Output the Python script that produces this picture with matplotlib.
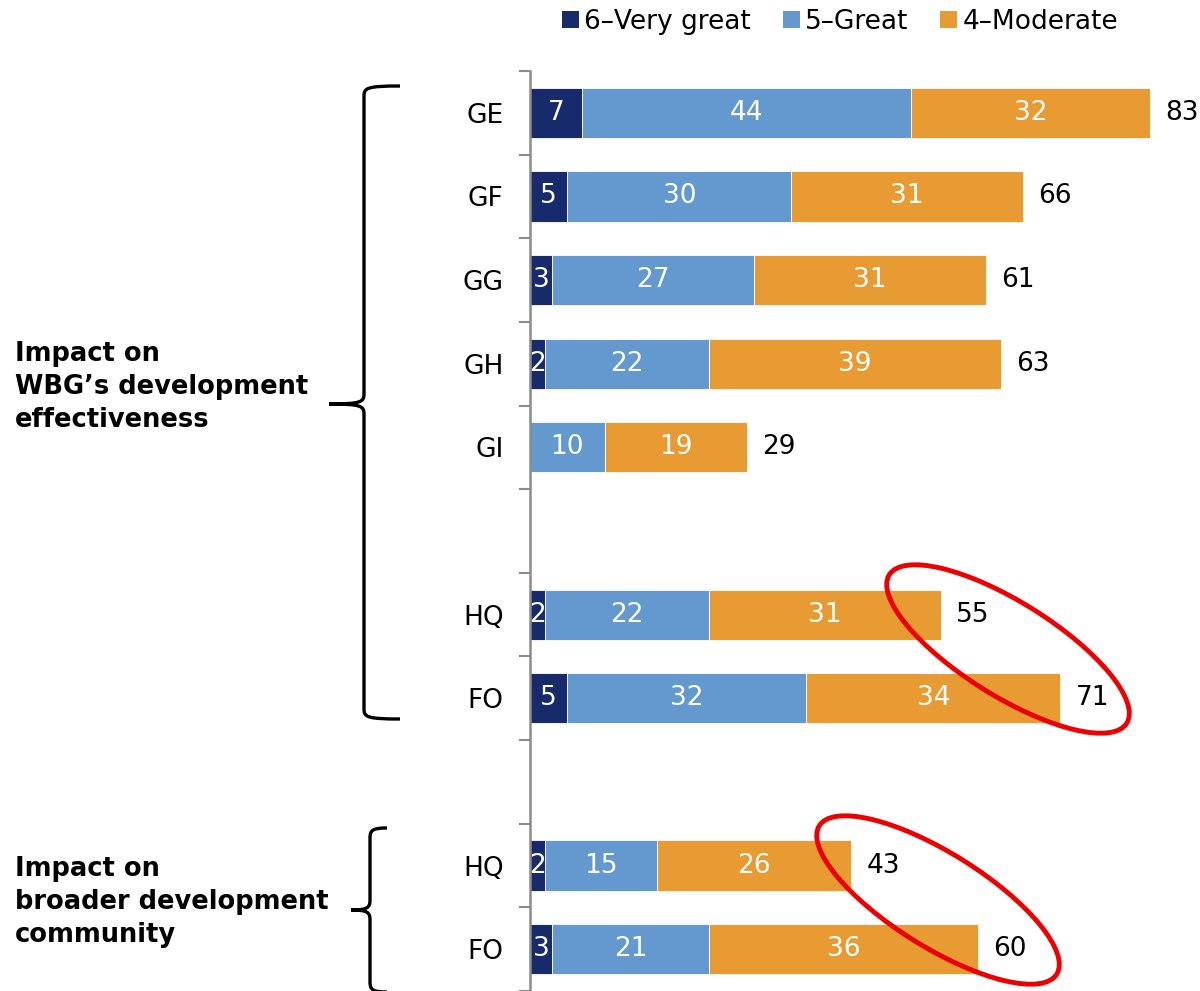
import numpy as np
import matplotlib.pyplot as plt
from matplotlib.path import Path
from matplotlib.patches import PathPatch, Ellipse, Patch

# === Data ===
rows = ['GE', 'GF', 'GG', 'GH', 'GI', '', 'HQ', 'FO', '', 'HQ', 'FO']
very_great = [7, 5, 3, 2, 0, None, 2, 5, None, 2, 3]
great = [44, 30, 27, 22, 10, None, 22, 32, None, 15, 21]
moderate = [32, 31, 31, 39, 19, None, 31, 34, None, 26, 36]
totals = [83, 66, 61, 63, 29, None, 55, 71, None, 43, 60]

series_names = ['6\u2013Very great', '5\u2013Great', '4\u2013Moderate']
colors = ['#172A6B', '#6399CE', '#E99B33']

group_labels = ['Impact on\nWBG\u2019s development\neffectiveness',
                'Impact on\nbroader development\ncommunity']

W, H = 1200, 991
FS = 19
fig = plt.figure(figsize=(W / 100, H / 100), dpi=100)
ax = fig.add_axes([530 / W, 0, 1 - 530 / W, (H - 71) / H])

ypos = np.arange(len(rows))
idx = [i for i, r in enumerate(rows) if r]

left = np.zeros(len(idx))
for name, vals, col in zip(series_names, [very_great, great, moderate], colors):
    v = np.array([vals[i] for i in idx], dtype=float)
    bars = ax.barh(ypos[idx], v, left=left, height=0.6, color=col,
                   edgecolor='white', linewidth=0.6, label=name)
    for b, val in zip(bars, v):
        if val > 0:
            ax.text(b.get_x() + b.get_width() / 2, b.get_y() + b.get_height() / 2,
                    f'{int(val)}', ha='center', va='center', color='white', fontsize=FS)
    left += v

for i in idx:
    ax.annotate(f'{totals[i]}', xy=(totals[i], ypos[i]), xytext=(11, 0),
                textcoords='offset points', ha='left', va='center',
                fontsize=FS, color='black')

ax.set_xlim(0, (W - 530) / 7.47)
ax.set_ylim(len(rows) - 0.5, -0.5)
ax.set_xticks([])
ax.set_yticks(ypos)
ax.set_yticklabels(rows, fontsize=FS)
ax.tick_params(axis='y', which='major', length=0, pad=19)
ax.set_yticks(np.arange(len(rows) + 1) - 0.5, minor=True)
ax.tick_params(axis='y', which='minor', length=8, width=1.5, color='#8C8C8C')
for s in ['top', 'right', 'bottom']:
    ax.spines[s].set_visible(False)
ax.spines['left'].set_color('#8C8C8C')
ax.spines['left'].set_linewidth(1.8)

# legend
handles = [Patch(facecolor=c, edgecolor='none') for c in colors]
fig.legend(handles, series_names, loc='center', bbox_to_anchor=(0.70, 0.978),
           ncol=3, frameon=False, fontsize=FS, handlelength=0.65, handleheight=0.65,
           handletextpad=0.2, columnspacing=1.2)

# overlay in pixel space for brackets, ellipses, group labels
ov = fig.add_axes([0, 0, 1, 1], zorder=5)
ov.set_xlim(0, W)
ov.set_ylim(H, 0)
ov.axis('off')
ov.patch.set_alpha(0)


def brace(x, top, mid, bottom, tip, end, r=10):
    verts = [(end, top), (x + 3, top), (x, top + 2), (x, top + r),
             (x, mid - r), (x, mid - 2), (x - 3, mid), (tip, mid),
             (x - 3, mid), (x, mid + 2), (x, mid + r),
             (x, bottom - r), (x, bottom - 2), (x + 3, bottom), (end, bottom)]
    codes = [Path.MOVETO, Path.CURVE4, Path.CURVE4, Path.CURVE4,
             Path.LINETO, Path.CURVE4, Path.CURVE4, Path.CURVE4,
             Path.CURVE4, Path.CURVE4, Path.CURVE4,
             Path.LINETO, Path.CURVE4, Path.CURVE4, Path.CURVE4]
    ov.add_patch(PathPatch(Path(verts, codes), fill=False, lw=2.4, color='black'))


brace(364, 86, 404, 719, 329, 400)
brace(370, 828, 910, 992, 351, 387)

ov.text(15, 387, group_labels[0], fontsize=18.5, fontweight='bold', ha='left',
        va='center', linespacing=1.35)
ov.text(15, 902, group_labels[1], fontsize=18.5, fontweight='bold', ha='left',
        va='center', linespacing=1.35)

for cx, cy in [(1008, 649), (938, 900)]:
    ov.add_patch(Ellipse((cx, cy), 280, 94, angle=32, fill=False,
                         edgecolor='#EE0000', lw=3.5))

fig.savefig('out.png', dpi=100)
